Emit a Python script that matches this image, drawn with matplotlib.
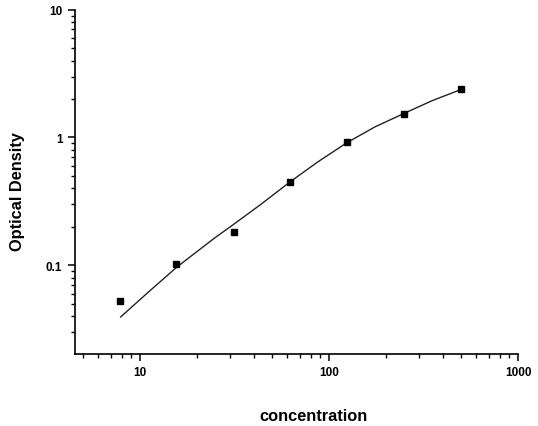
import matplotlib
matplotlib.use("Agg")
import matplotlib.pyplot as plt
from matplotlib.ticker import LogLocator, NullFormatter

# measured standards
conc = [7.8, 15.6, 31.25, 62.5, 125, 250, 500]
od = [0.0525, 0.103, 0.182, 0.451, 0.919, 1.54, 2.39]

# fitted curve
curve_x = [7.9, 11.07, 15.7, 24.9, 29.9, 43.0, 62.2, 87.5, 124.5, 175, 249, 351, 502]
curve_y = [0.0394, 0.0616, 0.097, 0.164, 0.199, 0.295, 0.449, 0.646, 0.911, 1.21, 1.54, 1.94, 2.38]

x_ticks = [10, 100, 1000]
x_labels = ["10", "100", "1000"]
y_ticks = [0.1, 1, 10]
y_labels = ["0.1", "1", "10"]

plt.rcParams['font.family'] = ['Liberation Sans', 'DejaVu Sans']

fig = plt.figure(figsize=(5.38, 4.27), dpi=100)
ax = fig.add_axes([75/538, 1-355/427, (518-75)/538, (355-10.7)/427])

ax.plot(curve_x, curve_y, color='#222222', lw=1.0)
ax.plot(conc, od, ls='none', marker='s', ms=5, color='black')

ax.set_xscale('log')
ax.set_yscale('log')
ax.set_xlim(4.53, 1000)
ax.set_ylim(0.0202, 10)

ax.set_xticks(x_ticks, x_labels, fontweight='bold', fontsize=8.5)
ax.set_yticks(y_ticks, y_labels, fontweight='bold', fontsize=8.5)
ax.xaxis.set_minor_locator(LogLocator(base=10, subs=range(2, 10)))
ax.yaxis.set_minor_locator(LogLocator(base=10, subs=range(2, 10)))
ax.xaxis.set_minor_formatter(NullFormatter())
ax.yaxis.set_minor_formatter(NullFormatter())
ax.set_xlim(4.53, 1000)
ax.set_ylim(0.0202, 10)

for s in ['top', 'right']:
    ax.spines[s].set_visible(False)
for s in ['left', 'bottom']:
    ax.spines[s].set_linewidth(1.2)

ax.tick_params(which='major', direction='out', length=5, width=1.1, pad=4)
ax.tick_params(which='minor', direction='out', length=3, width=1.0)

fig.text(313/538, 1-416.5/427, 'concentration', ha='center', va='center',
         fontsize=11.8, fontweight='bold')
fig.text(18/538, 1-191.5/427, 'Optical Density', ha='center', va='center',
         rotation=90, fontsize=11.8, fontweight='bold')

fig.savefig('out.png', dpi=100)
